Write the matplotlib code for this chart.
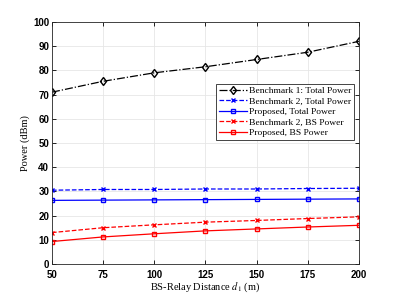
import matplotlib
matplotlib.use('Agg')
from matplotlib import pyplot as plt

plt.rcParams['mathtext.fontset'] = 'stix'

d1 = [50, 75, 100, 125, 150, 175, 200]
bench1_total = [71.0, 75.5, 79.0, 81.5, 84.5, 87.5, 92.0]
bench2_total = [30.5, 30.8, 30.8, 31.0, 31.0, 31.2, 31.3]
prop_total = [26.3, 26.4, 26.5, 26.6, 26.7, 26.8, 26.9]
bench2_bs = [13.0, 15.0, 16.2, 17.3, 18.0, 18.8, 19.5]
prop_bs = [9.3, 11.2, 12.5, 13.7, 14.5, 15.3, 16.0]

fig = plt.figure(figsize=(3.97, 2.97), dpi=100)
ax = fig.add_axes([0.131, 0.111, 0.773, 0.815])

ax.plot(d1, bench1_total, 'k-.', marker='d', mfc='none', ms=4.5, lw=0.9, label='Benchmark 1: Total Power')
ax.plot(d1, bench2_total, 'b--', marker='x', ms=3.5, lw=0.9, label='Benchmark 2, Total Power')
ax.plot(d1, prop_total, 'b-', marker='s', mfc='none', ms=3.5, lw=0.9, label='Proposed, Total Power')
ax.plot(d1, bench2_bs, 'r--', marker='x', ms=3.5, lw=0.9, label='Benchmark 2, BS Power')
ax.plot(d1, prop_bs, 'r-', marker='s', mfc='none', ms=3.5, lw=0.9, label='Proposed, BS Power')

ax.set_xlim(50, 200)
ax.set_ylim(0, 100)
ax.set_xticks(d1)
ax.set_yticks(range(0, 101, 10))
ax.grid(True, color='#e6e6e6', lw=0.6)
ax.set_axisbelow(True)
ax.tick_params(direction='in', length=3, width=0.6, labelsize=7, top=True, right=True)
ax.tick_params(axis='x', pad=4)
ax.tick_params(axis='y', pad=2)
for lbl in ax.get_xticklabels() + ax.get_yticklabels():
    lbl.set_family('Liberation Sans')
    lbl.set_fontweight('bold')
for s in ax.spines.values():
    s.set_linewidth(0.6)
    s.set_color('#262626')

ax.set_xlabel(r'BS-Relay Distance $d_1$ (m)', family='Liberation Serif', fontsize=7.5, labelpad=1)
ax.set_ylabel('Power (dBm)', family='Liberation Serif', fontsize=7.5, labelpad=2)

leg = ax.legend(loc='upper right', bbox_to_anchor=(0.985, 0.745),
                prop={'family': 'Liberation Serif', 'size': 6.8}, fancybox=False,
                edgecolor='#262626', framealpha=1, borderpad=0.3, labelspacing=0.2,
                handlelength=3.0, handletextpad=0.2, borderaxespad=0.0)
leg.get_frame().set_linewidth(0.6)

fig.savefig('out.png', dpi=100)
